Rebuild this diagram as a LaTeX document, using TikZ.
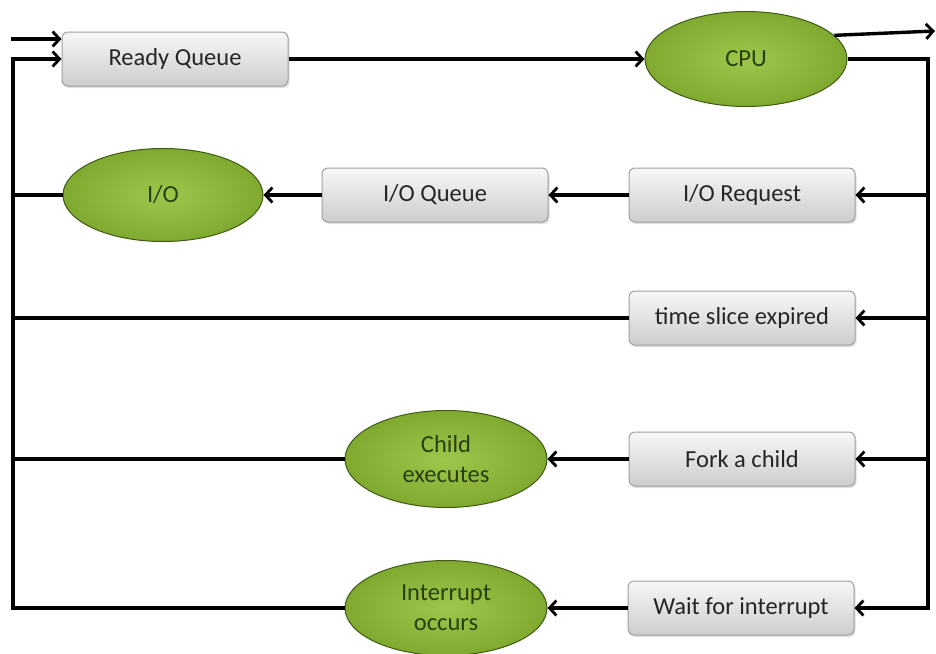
\documentclass[tikz,border=0pt]{standalone}
\usepackage{fontspec}
\setmainfont{Carlito}
\usetikzlibrary{shapes.geometric,arrows.meta,shadows}
\definecolor{boxedge}{HTML}{A0A0A0}
\definecolor{boxtop}{HTML}{F7F7F7}
\definecolor{boxbot}{HTML}{CDCDCD}
\definecolor{boxtext}{HTML}{262626}
\definecolor{ovin}{HTML}{9EC64C}
\definecolor{ovout}{HTML}{80A92F}
\definecolor{ovedge}{HTML}{3E5A14}
\definecolor{ovtext}{HTML}{273F0C}
\begin{document}
\begin{tikzpicture}[x=1pt,y=-1pt,
  box/.style={draw=boxedge, line width=1pt, rounded corners=6pt,
    minimum width=226pt, minimum height=54pt,
    top color=boxtop, bottom color=boxbot,
    drop shadow={opacity=0.25, shadow xshift=1.5pt, shadow yshift=-2pt},
    font=\fontsize{24.5}{30}\selectfont, text=boxtext},
  oval/.style={ellipse, draw=ovedge, line width=1pt, inner sep=0pt,
    inner color=ovin, outer color=ovout,
    minimum width=202pt, minimum height=95pt, align=center,
    font=\fontsize{24.5}{30}\selectfont, text=ovtext},
  conn/.style={line width=3.4pt},
  arr/.style={conn, -{Straight Barb[length=7pt,width=15pt,line width=2.8pt]}}
]
\useasboundingbox (0,0) rectangle (936,653);
% nodes
\node[box]  (rq)    at (175,59)  {Ready Queue};
\node[oval] (cpu)   at (746,59)  {CPU};
\node[box]  (ioreq) at (742,195) {I/O Request};
\node[box]  (ioq)   at (435,195) {I/O Queue};
\node[oval, minimum width=200pt, minimum height=93pt] (io) at (163,195) {I/O};
\node[box]  (ts)    at (742,318) {time slice expired};
\node[box]  (fork)  at (742,459) {Fork a child};
\node[oval, minimum height=97pt] (child) at (446,459) {Child\\executes};
\node[box]  (wait)  at (741,608) {Wait for interrupt};
\node[oval] (intr)  at (446,608) {Interrupt\\occurs};
% helper coordinates
\coordinate (in)   at (11,39);
\coordinate (Ltop) at (13,59);
\coordinate (Lbot) at (13,608);
\coordinate (Rtop) at (928,59);
\coordinate (Rbot) at (928,608);
\coordinate (exit) at (935,31);
% connectors
\draw[arr] (in) -- (rq.west |- in);
\draw[arr] (rq.east) -- (cpu.west);
\draw[arr] (cpu.15) -- (exit);
\draw[arr] (cpu.east) -- (Rtop) -- (Rbot) -- (wait.east);
\draw[arr] (ioreq.east -| Rtop) -- (ioreq.east);
\draw[arr] (ts.east -| Rtop) -- (ts.east);
\draw[arr] (fork.east -| Rtop) -- (fork.east);
\draw[arr] (ioreq.west) -- (ioq.east);
\draw[arr] (ioq.west) -- (io.east);
\draw[arr] (fork.west) -- (child.east);
\draw[arr] (wait.west) -- (intr.east);
\draw[arr] (intr.west) -- (Lbot) -- (Ltop) -- (rq.west);
\draw[conn] (io.west) -- (io.west -| Ltop);
\draw[conn] (ts.west) -- (ts.west -| Ltop);
\draw[conn] (child.west) -- (child.west -| Ltop);
\end{tikzpicture}
\end{document}
